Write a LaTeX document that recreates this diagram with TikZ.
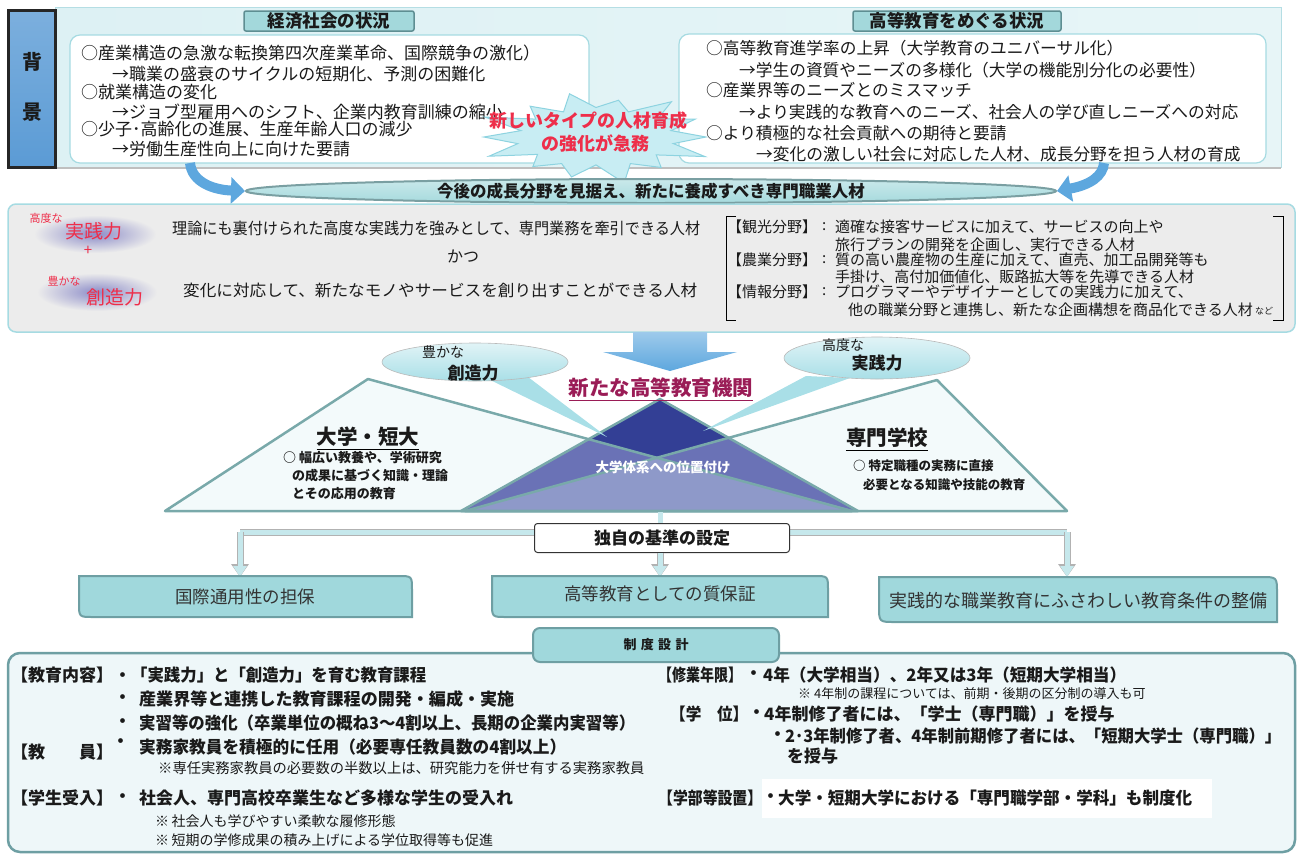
\documentclass[tikz,border=0pt]{standalone}
\usepackage{fontspec}
\setmainfont{Noto Sans CJK JP}
\usepackage{graphicx}
\usetikzlibrary{arrows.meta,shapes.geometric}
\definecolor{cband}{HTML}{DDF1F4}
\definecolor{cbandd}{HTML}{B5DEE4}
\definecolor{cblue}{HTML}{5B9BD5}
\definecolor{ctab}{HTML}{A3D8DB}
\definecolor{ctabd}{HTML}{5E8E92}
\definecolor{cwbord}{HTML}{A6DBE2}
\definecolor{cburst}{HTML}{C8EDF3}
\definecolor{cburstd}{HTML}{8DD3E0}
\definecolor{cred}{HTML}{EE2E4A}
\definecolor{carrow}{HTML}{5DA7DE}
\definecolor{cbanner}{HTML}{A6DADD}
\definecolor{cbannerd}{HTML}{7A9FA2}
\definecolor{cgray}{HTML}{ECECEC}
\definecolor{ctri}{HTML}{79A9AA}
\definecolor{ctrif}{HTML}{F3FAFB}
\definecolor{cpur}{HTML}{6A72B6}
\definecolor{cdark}{HTML}{333F95}
\definecolor{clav}{HTML}{8E99C9}
\definecolor{ctitle}{HTML}{9A1C56}
\definecolor{cbub}{HTML}{A9DFE7}
\definecolor{cbox}{HTML}{A0D8DC}
\definecolor{cboxd}{HTML}{6E9FA3}
\definecolor{cconn}{HTML}{C6E8EC}
\definecolor{cpanel}{HTML}{EEF7F9}
\definecolor{ctxt}{HTML}{1A1A1A}
\definecolor{cglow}{HTML}{8C8CC8}
\newcommand\fs[1]{\fontsize{#1}{#1}\selectfont}
\newcommand\fitw[2]{\resizebox{#1pt}{\height}{#2}}
\tikzset{
  tl/.style={anchor=west, inner sep=0pt, text=ctxt},
  tc/.style={inner sep=0pt, text=ctxt},
  tabbox/.style={fill=ctab, draw=ctabd, line width=1.5pt, rounded corners=2pt},
  wbox/.style={fill=white, draw=cwbord, line width=1.2pt, rounded corners=10pt},
  triedge/.style={draw=ctri, line width=2.5pt, line join=round},
  bubble/.style={fill=cbub},
  conn/.style={draw=cconn, line width=5pt},
  connsh/.style={draw=gray!60, line width=7pt},
  cbx/.style={fill=cbox, draw=cboxd, line width=2pt},
}
\begin{document}
\begin{tikzpicture}[x=1pt,y=-1pt]
\useasboundingbox (0,0) rectangle (1300,855);
% ---------- background band ----------
\path[left color=cband, right color=cband!70!white, draw=cbandd, line width=1pt] (55,7) rectangle (1281,167);
\draw[gray!50, line width=2pt] (55,168) -- (1281,168);
\path[top color=cblue!80!white, bottom color=cblue, draw=black!85, line width=3pt] (8,10) rectangle (55,167);
\node[tc, font=\fs{20}\bfseries] (hai) at (32,62) {背};
\node[tc, font=\fs{20}\bfseries] (kei) at (32,112) {景};
% tabs
\path[tabbox] (244,11) rectangle (414,31);
\node[tc, font=\fs{17.5}\bfseries] (tabL) at (329,21) {経済社会の状況};
\path[tabbox] (853,11) rectangle (1061,31);
\node[tc, font=\fs{17.5}\bfseries] (tabR) at (957,21) {高等教育をめぐる状況};
% white boxes
\path[wbox] (70,35) rectangle (589,163);
\path[wbox] (679,34) rectangle (1266,163);
\node[tl, font=\fs{17}] (l1) at (81,53) {○産業構造の急激な転換第四次産業革命、国際競争の激化）};
\node[tl, font=\fs{17}] (l2) at (112,74) {→職業の盛衰のサイクルの短期化、予測の困難化};
\node[tl, font=\fs{17}] (l3) at (81,92) {○就業構造の変化};
\node[tl, font=\fs{17}] (l4) at (112,112) {→ジョブ型雇用へのシフト、企業内教育訓練の縮小};
\node[tl, font=\fs{17}] (l5) at (81,129) {○少子･高齢化の進展、生産年齢人口の減少};
\node[tl, font=\fs{17}] (l6) at (112,149) {→労働生産性向上に向けた要請};
\node[tl, font=\fs{16.7}] (r1) at (706,48) {○高等教育進学率の上昇（大学教育のユニバーサル化）};
\node[tl, font=\fs{16.7}] (r2) at (739,70) {→学生の資質やニーズの多様化（大学の機能別分化の必要性）};
\node[tl, font=\fs{16.7}] (r3) at (706,90) {○産業界等のニーズとのミスマッチ};
\node[tl, font=\fs{16.7}] (r4) at (739,112) {→より実践的な教育へのニーズ、社会人の学び直しニーズへの対応};
\node[tl, font=\fs{16.7}] (r5) at (706,133) {○より積極的な社会貢献への期待と要請};
\node[tl, font=\fs{16.7}] (r6) at (756,154) {→変化の激しい社会に対応した人材、成長分野を担う人材の育成};
% starburst
\path[fill=cburst, draw=cburstd, line width=1pt] (706,137)
  \foreach \i/\f in {1/0.72,2/1.1,3/0.7,4/0.95,5/0.72,6/1.15,7/0.68,8/1.0,9/0.72,10/0.92,11/0.68,12/1.08,13/0.73,14/1.02,15/0.7,16/1.12,17/0.7,18/0.96,19/0.68,20/1.08,21/0.72,22/0.92,23/0.68,24/1.1,25/0.72,26/1.0,27/0.7}
  { -- ({596+110*\f*cos(\i*360/28)},{137+41*\f*sin(\i*360/28)}) } -- cycle;
\node[tc, font=\fs{18}\bfseries, text=cred] (burst1) at (588,121) {新しいタイプの人材育成};
\node[tc, font=\fs{18}\bfseries, text=cred] (burst2) at (595,143) {の強化が急務};
% banner
\node[ellipse, minimum width=810pt, minimum height=24pt, inner sep=0pt, top color=cbanner!60!white, bottom color=cbanner, draw=cbannerd, line width=2pt] (banner) at (651,191) {};
\node[tc, font=\fs{16.5}\bfseries] (bannert) at (651,191) {今後の成長分野を見据え、新たに養成すべき専門職業人材};
\coordinate (arLs) at (190,163);
\coordinate (arRs) at (1104,163);
\draw[carrow, line width=10pt, -{Triangle[length=14pt,width=26pt]}] (arLs) .. controls (192,183) and (215,190) .. (banner.west);
\draw[carrow, line width=10pt, -{Triangle[length=14pt,width=26pt]}] (arRs) .. controls (1103,176) and (1090,185) .. (banner.east);
% ---------- middle gray panel ----------
\path[fill=cgray, draw=cwbord, line width=1.5pt, rounded corners=8pt] (8,204) rectangle (1295,332);
\shade[inner color=cglow, outer color=cgray] (95,234) ellipse [x radius=61, y radius=19];
\shade[inner color=cglow, outer color=cgray] (97,292) ellipse [x radius=60, y radius=19];
\node[tc, font=\fs{11}, text=cred] (kodo1) at (46,218) {高度な};
\node[tc, font=\fs{19}, text=cred] (jissen1) at (94,231) {実践力};
\node[tc, font=\fs{15}, text=cred] (plus) at (88,251) {+};
\node[tc, font=\fs{11}, text=cred] (yuta1) at (64,281) {豊かな};
\node[tc, font=\fs{19}, text=cred] (sozo1) at (115,297) {創造力};
\node[tl, font=\fs{16}] (m1) at (172,228) {\fitw{528}{理論にも裏付けられた高度な実践力を強みとして、専門業務を牽引できる人材}};
\node[tc, font=\fs{16}] (m2) at (463,256) {かつ};
\node[tl, font=\fs{16}] (m3) at (183,290) {\fitw{514}{変化に対応して、新たなモノやサービスを創り出すことができる人材}};
\draw[black, line width=0.8pt] (736,216) -- (726,216) -- (726,320) -- (736,320);
\draw[black, line width=0.8pt] (1273,216) -- (1283,216) -- (1283,320) -- (1273,320);
\foreach \y/\lab/\txt in {227/【観光分野】/適確な接客サービスに加えて、サービスの向上や,
                          260/【農業分野】/質の高い農産物の生産に加えて、直売、加工品開発等も,
                          292/【情報分野】/プログラマーやデザイナーとしての実践力に加えて、}{
  \node[tl, font=\fs{15}] at (727,\y) {\lab};
  \node[tl, font=\fs{15}] at (822,\y) {:};
  \node[tl, font=\fs{15}] at (835,\y) {\txt};
}
\node[tl, font=\fs{15}] (k2) at (835,245) {旅行プランの開発を企画し、実行できる人材};
\node[tl, font=\fs{15}] (n2) at (835,277) {手掛け、高付加価値化、販路拡大等を先導できる人材};
\node[tl, font=\fs{15}] (j2) at (848,310) {他の職業分野と連携し、新たな企画構想を商品化できる人材};
\node[tl, font=\fs{9}] (nado) at (1255,311) {など};
% ---------- big down arrow ----------
\path[top color=carrow!60!white, bottom color=carrow] (633,332) -- (707,332) -- (707,352) -- (737,352) -- (670,371) -- (603,352) -- (633,352) -- cycle;
% ---------- triangles ----------
\path[fill=ctrif] (368,379) -- (165,511) -- (852,511) -- cycle;
\path[fill=ctrif] (937,380) -- (465,511) -- (1067,511) -- cycle;
\path[fill=cpur] (660,399) -- (461,511) -- (858,511) -- cycle;
\path[fill=cdark] (660,399) -- (588.6,439.2) -- (656.8,457.8) -- (728.6,437.8) -- cycle;
\path[fill=clav] (463,511) -- (656.8,457.8) -- (856,511) -- cycle;
\path[triedge] (368,379) -- (165,511) -- (852,511) -- cycle;
\path[triedge] (937,380) -- (465,511) -- (1067,511) -- cycle;
\path[triedge] (660,399) -- (461,511) -- (858,511) -- cycle;
% callouts
\path[bubble] (482,376) -- (607,437) -- (528,377) -- cycle;
\path[top color=cbub!35!white, bottom color=cbub, draw=gray!55, line width=0.6pt] (475,362) ellipse [x radius=93, y radius=19];
\path[bubble] (806,376) -- (703,431) -- (850,378) -- cycle;
\path[top color=cbub!35!white, bottom color=cbub, draw=gray!55, line width=0.6pt] (877,358) ellipse [x radius=93, y radius=21];
\node[tc, font=\fs{14}] (yuta2) at (443,352) {豊かな};
\node[tc, font=\fs{17}\bfseries] (sozo2) at (473,373) {創造力};
\node[tc, font=\fs{14}] (kodo2) at (843,345) {高度な};
\node[tc, font=\fs{17}\bfseries] (jissen2) at (877,363) {実践力};
\node[tc, font=\fs{20.5}\bfseries, text=ctitle] (title) at (661,388) {新たな高等教育機関};
\draw[ctitle, line width=1.2pt] ([yshift=-2pt]title.south west) -- ([yshift=-2pt]title.south east);
\node[tc, font=\fs{13.5}\bfseries, text=white] (taikei) at (663,467) {大学体系への位置付け};
\node[tc, font=\fs{20.5}\bfseries] (daigaku) at (368,437) {大学・短大};
\draw[black, line width=1pt] ([yshift=-2pt]daigaku.south west) -- ([yshift=-2pt]daigaku.south east);
\node[tl, font=\fs{13}\bfseries] (d1) at (283,458) {○ 幅広い教養や、学術研究};
\node[tl, font=\fs{13}\bfseries] (d2) at (292,476) {の成果に基づく知識・理論};
\node[tl, font=\fs{13}\bfseries] (d3) at (292,494) {とその応用の教育};
\node[tc, font=\fs{20.5}\bfseries] (senmon) at (887,438) {専門学校};
\draw[black, line width=1pt] ([yshift=-2pt]senmon.south west) -- ([yshift=-2pt]senmon.south east);
\node[tl, font=\fs{12.5}\bfseries] (s1) at (853,466) {○ 特定職種の実務に直接};
\node[tl, font=\fs{12.5}\bfseries] (s2) at (863,485) {必要となる知識や技能の教育};
% ---------- connectors ----------
\coordinate (pyb) at (660,512);
\coordinate (barL) at (240,532);
\coordinate (barR) at (1067,532);
\coordinate (barM) at (660,532);
\coordinate (t1) at (240,577);
\coordinate (t2) at (660,577);
\coordinate (t3) at (1067,577);
\draw[connsh] (barL) -- (barR);
\draw[conn] (barL) -- (barR);
\draw[conn] (pyb) -- (barM);
\foreach \a/\b in {barL/t1, barR/t3}{
  \draw[connsh, -{Triangle[length=13pt,width=17pt]}] (\a) -- (\b);
  \draw[conn, -{Triangle[length=11pt,width=13pt]}] (\a) -- (\b);
}
\node[draw=black!80, fill=white, line width=1pt, rounded corners=3pt, minimum width=255pt, minimum height=29pt, font=\fs{17}\bfseries, text=ctxt] (kijun) at (662,538) {独自の基準の設定};
\draw[connsh, -{Triangle[length=13pt,width=17pt]}] (kijun.south -| t2) -- (t2);
\draw[conn, -{Triangle[length=11pt,width=13pt]}] (kijun.south -| t2) -- (t2);
% bottom three boxes
\path[cbx] (79,576) -- (398,576) .. controls (412,576) .. (412,590) -- (412,617) -- (93,617) .. controls (79,617) .. (79,603) -- cycle;
\path[cbx] (492,576) -- (814,576) .. controls (828,576) .. (828,590) -- (828,617) -- (506,617) .. controls (492,617) .. (492,603) -- cycle;
\path[cbx] (879,577) -- (1261,577) .. controls (1277,577) .. (1277,593) -- (1277,622) -- (895,622) .. controls (879,622) .. (879,606) -- cycle;
\node[tc, font=\fs{17.5}, text=black!80] (b1) at (245,597) {国際通用性の担保};
\node[tc, font=\fs{17.5}, text=black!80] (b2) at (660,594) {高等教育としての質保証};
\node[tc, font=\fs{18}, text=black!80] (b3) at (1078,601) {実践的な職業教育にふさわしい教育条件の整備};
% ---------- bottom panel ----------
\path[fill=cpanel, draw=cboxd, line width=2.5pt, rounded corners=12pt] (8,653) rectangle (1295,852);
\path[fill=cbox, draw=cboxd, line width=2pt, rounded corners=7pt] (533,628) rectangle (779,662);
\node[tc, font=\fs{13}\bfseries] (seido) at (656,645) {制\,\,度\,\,設\,\,計};
% left column
\node[tl, font=\fs{17}\bfseries] (e1l) at (11,675) {【教育内容】};
\node[tl, font=\fs{17}\bfseries] (e1) at (114,675) {・\fitw{295}{「実践力」と「創造力」を育む教育課程}};
\node[tl, font=\fs{17}\bfseries] (e2b) at (114,699) {・};
\node[tl, font=\fs{17}\bfseries] (e2) at (139,699) {\fitw{375}{産業界等と連携した教育課程の開発・編成・実施}};
\node[tl, font=\fs{17}\bfseries] (e3b) at (114,723) {・};
\node[tl, font=\fs{17}\bfseries] (e3) at (139,723) {\fitw{496}{実習等の強化（卒業単位の概ね3～4割以上、長期の企業内実習等）}};
\node[tl, font=\fs{17}\bfseries] (k1l) at (11,752) {【教\hspace{2em}員】};
\node[tl, font=\fs{17}\bfseries] (k1b) at (112,743) {・};
\node[tl, font=\fs{17}\bfseries] (k1) at (139,747) {\fitw{427}{実務家教員を積極的に任用（必要専任教員数の4割以上）}};
\node[tl, font=\fs{14.3}] (k2n) at (158,768) {※専任実務家教員の必要数の半数以上は、研究能力を併せ有する実務家教員};
\node[tl, font=\fs{17}\bfseries] (g1l) at (11,798) {【学生受入】};
\node[tl, font=\fs{17}\bfseries] (g1b) at (114,798) {・};
\node[tl, font=\fs{17}\bfseries] (g1) at (139,798) {社会人、専門高校卒業生など多様な学生の受入れ};
\node[tl, font=\fs{14}] (g2) at (155,821) {※\,社会人も学びやすい柔軟な履修形態};
\node[tl, font=\fs{14}] (g3) at (155,840) {※\,短期の学修成果の積み上げによる学位取得等も促進};
% right column
\node[tl, font=\fs{17}\bfseries] (y1l) at (658,675) {\fitw{84}{【修業年限】}};
\node[tl, font=\fs{17}\bfseries] (y1b) at (745,675) {・};
\node[tl, font=\fs{17}\bfseries] (y1) at (763,675) {\fitw{363}{4年（大学相当）、2年又は3年（短期大学相当）}};
\node[tl, font=\fs{13}] (y2) at (798,694) {※ 4年制の課程については、前期・後期の区分制の導入も可};
\node[tl, font=\fs{17}\bfseries] (a1l) at (670,714) {\fitw{78}{【学\hspace{1em}位】}};
\node[tl, font=\fs{17}\bfseries] (a1b) at (748,714) {・};
\node[tl, font=\fs{17}\bfseries] (a1) at (764,714) {4年制修了者には、「学士（専門職）」を授与};
\node[tl, font=\fs{17}\bfseries] (a2b) at (769,736) {・};
\node[tl, font=\fs{17}\bfseries] (a2) at (785,736) {\fitw{496}{2･3年制修了者、4年制前期修了者には、「短期大学士（専門職）」}};
\node[tl, font=\fs{17}\bfseries] (a3) at (787,756) {を授与};
\path[fill=white] (762,779) rectangle (1212,818);
\node[tl, font=\fs{17}\bfseries] (f1l) at (658,798) {\fitw{104}{【学部等設置】}};
\node[tl, font=\fs{17}\bfseries] (f1b) at (762,798) {・};
\node[tl, font=\fs{17}\bfseries] (f1) at (778,798) {\fitw{414}{大学・短期大学における「専門職学部・学科」も制度化}};
\end{tikzpicture}
\end{document}
